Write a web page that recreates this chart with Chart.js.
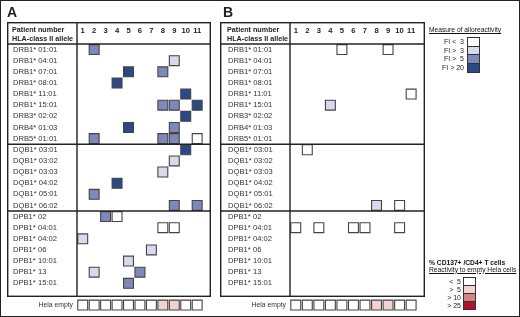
<!DOCTYPE html>
<html><head><meta charset="utf-8">
<script src="https://cdn.jsdelivr.net/npm/chart.js@4/dist/chart.umd.min.js"></script>
<style>
html,body{margin:0;padding:0;background:#fff;}
#fig{position:relative;width:520px;height:317px;box-sizing:border-box;border:1px solid #222;overflow:hidden;font-family:"Liberation Sans",Arial,sans-serif;color:#222;}
canvas{position:absolute;}
.layer{position:absolute;left:0;top:0;width:520px;height:317px;will-change:transform;-webkit-font-smoothing:antialiased;}
.t{position:absolute;white-space:nowrap;line-height:1;}
.sw{position:absolute;box-sizing:border-box;border:1px solid #333;}
</style></head>
<body><div id="fig">
<div class="layer">
<div class="t" style="left:6px;top:4px;font-size:14px;font-weight:bold;">A</div>
<div class="t" style="left:222px;top:4px;font-size:14px;font-weight:bold;">B</div>
</div>
<canvas id="cA" width="204" height="275" style="left:6px;top:21px;"></canvas>
<canvas id="cB" width="205" height="275" style="left:219px;top:21px;"></canvas>
<canvas id="hA" width="204" height="16" style="left:6px;top:296px;"></canvas>
<canvas id="hB" width="205" height="16" style="left:219px;top:296px;"></canvas>
<div class="layer" id="leg1"></div><div class="layer" id="leg2"></div>
</div>
<script>
const patients = ['1','2','3','4','5','6','7','8','9','10','11'];
const drAlleles = ['DRB1* 01:01','DRB1* 04:01','DRB1* 07:01','DRB1* 08:01','DRB1* 11:01','DRB1* 15:01','DRB3* 02:02','DRB4* 01:03','DRB5* 01:01'];
const dqAlleles = ['DQB1* 03:01','DQB1* 03:02','DQB1* 03:03','DQB1* 04:02','DQB1* 05:01','DQB1* 06:02'];
const dpAlleles = ['DPB1* 02','DPB1* 04:01','DPB1* 04:02','DPB1* 06','DPB1* 10:01','DPB1* 13','DPB1* 15:01'];
const fiLabels = ['FI <  3','FI >  3','FI >  5','FI > 20'];
const fiColors = ['#ffffff','#d8d9ec','#7f89b9','#2c4985'];
const helaLabels = ['<  5','>  5','> 10','> 25'];
const helaColors = ['#ffffff','#f1d2d0','#d38383','#b0122e'];
// [patient, allele, FI level]
const reactivityA = [
 ['2','DRB1* 01:01',2],['9','DRB1* 04:01',1],['5','DRB1* 07:01',3],['8','DRB1* 07:01',2],
 ['4','DRB1* 08:01',3],['10','DRB1* 11:01',3],['8','DRB1* 15:01',2],['9','DRB1* 15:01',2],
 ['11','DRB1* 15:01',3],['10','DRB3* 02:02',3],['5','DRB4* 01:03',3],['9','DRB4* 01:03',2],
 ['2','DRB5* 01:01',2],['8','DRB5* 01:01',2],['9','DRB5* 01:01',2],['11','DRB5* 01:01',0],
 ['10','DQB1* 03:01',3],['9','DQB1* 03:02',1],['8','DQB1* 03:03',1],['4','DQB1* 04:02',3],
 ['2','DQB1* 05:01',2],['9','DQB1* 06:02',2],['11','DQB1* 06:02',2],
 ['3','DPB1* 02',2],['4','DPB1* 02',0],['8','DPB1* 04:01',0],['9','DPB1* 04:01',0],
 ['1','DPB1* 04:02',1],['7','DPB1* 06',1],['5','DPB1* 10:01',1],['2','DPB1* 13',1],
 ['6','DPB1* 13',2],['5','DPB1* 15:01',2]
];
const reactivityB = [
 ['5','DRB1* 01:01',0],['9','DRB1* 01:01',0],['11','DRB1* 11:01',0],['4','DRB1* 15:01',1],
 ['2','DQB1* 03:01',0],['8','DQB1* 06:02',1],['10','DQB1* 06:02',0],
 ['1','DPB1* 04:01',0],['3','DPB1* 04:01',0],['6','DPB1* 04:01',0],['7','DPB1* 04:01',0],['10','DPB1* 04:01',0]
];
const helaA = [0,0,0,0,0,0,0,1,1,0,0];
const helaB = [0,0,0,0,0,0,0,1,1,0,0];

const groups = [drAlleles, dqAlleles, dpAlleles];
const alleles = groups.flat();
const FONT = '"Liberation Sans", Arial, sans-serif';

const tableLines = {
  id: 'tableLines',
  afterDraw(chart) {
    const {ctx, chartArea: a, scales: {y}} = chart;
    const W = chart.width, H = chart.height;
    ctx.save();
    ctx.strokeStyle = '#222'; ctx.lineWidth = 1.4;
    const line = (x1, y1, x2, y2) => { ctx.beginPath(); ctx.moveTo(x1, y1); ctx.lineTo(x2, y2); ctx.stroke(); };
    ctx.strokeRect(0.7, 0.7, W - 1.4, H - 1.4);
    line(0, a.top, W, a.top);
    line(a.left, 0, a.left, H);
    let idx = 0;
    groups.slice(0, -1).forEach(g => {
      idx += g.length;
      const yy = (y.getPixelForValue(idx - 1) + y.getPixelForValue(idx)) / 2;
      line(0, yy, W, yy);
    });
    ctx.fillStyle = '#222'; ctx.font = 'bold 7.2px ' + FONT; ctx.textBaseline = 'middle';
    const px = chart.options.layout.padding.left;
    ctx.fillText('Patient number', px - 1, 8);
    ctx.fillText('HLA-class II allele', px - 1, 17);
    ctx.restore();
  }
};

function panel(id, cells, padLeft) {
  new Chart(document.getElementById(id), {
    type: 'scatter',
    data: { datasets: [{
      data: cells.map(c => ({x: c[0], y: c[1]})),
      backgroundColor: cells.map(c => fiColors[c[2]]),
      borderColor: '#444', borderWidth: 1.1,
      pointStyle: 'rect', pointRadius: 7, pointHoverRadius: 7, clip: false
    }]},
    options: {
      responsive: false, animation: false, events: [],
      layout: { padding: { left: padLeft, right: 0, top: 0, bottom: 0 } },
      plugins: { legend: {display: false}, tooltip: {enabled: false} },
      scales: {
        x: { type: 'category', labels: patients, position: 'top', offset: true,
             grid: {display: false, drawTicks: false}, border: {display: false},
             ticks: { font: {family: FONT, size: 7.6, weight: 'bold'}, color: '#222', padding: 9, maxRotation: 0, autoSkip: false },
             afterFit(s) { s.height = 22; } },
        y: { type: 'category', labels: alleles, offset: true,
             grid: {display: false, drawTicks: false}, border: {display: false},
             ticks: { font: {family: FONT, size: 7.6}, color: '#333', crossAlign: 'far', autoSkip: false, padding: 0 },
             afterFit(s) { s.width = 70 - padLeft; } }
      }
    },
    plugins: [tableLines]
  });
}

function helaRow(id, levels) {
  new Chart(document.getElementById(id), {
    type: 'scatter',
    data: { datasets: [{
      data: levels.map((l, i) => ({x: patients[i], y: 'Hela empty'})),
      backgroundColor: levels.map(l => helaColors[l]),
      borderColor: '#444', borderWidth: 1.1,
      pointStyle: 'rect', pointRadius: 7, pointHoverRadius: 7, clip: false
    }]},
    options: {
      responsive: false, animation: false, events: [],
      layout: { padding: 0 },
      plugins: { legend: {display: false}, tooltip: {enabled: false} },
      scales: {
        x: { type: 'category', labels: patients, offset: true, display: false },
        y: { type: 'category', labels: ['Hela empty'], offset: true,
             grid: {display: false, drawTicks: false}, border: {display: false},
             ticks: { font: {family: FONT, size: 6.8}, color: '#333', crossAlign: 'near', padding: 4 },
             afterFit(s) { s.width = 70; } }
      }
    }
  });
}

panel('cA', reactivityA, 6);
panel('cB', reactivityB, 8);
helaRow('hA', helaA);
helaRow('hB', helaB);

function legend(elId, x, y, titleLines, labels, colors, swX, swY, swH, labRight) {
  const el = document.getElementById(elId);
  let html = '';
  titleLines.forEach((t, i) => {
    html += `<div class="t" style="left:${x}px;top:${y + i * 7}px;font-size:6.7px;color:#111;${t.style}">${t.text}</div>`;
  });
  labels.forEach((lab, i) => {
    html += `<div class="sw" style="left:${swX}px;top:${swY + i * swH}px;width:13px;height:${swH + 1}px;background:${colors[i]};"></div>`;
    html += `<div class="t" style="left:${labRight - 30}px;width:30px;text-align:right;top:${swY + i * swH + swH / 2 - 3.5}px;font-size:7px;color:#222;white-space:pre;">${lab}</div>`;
  });
  el.innerHTML = html;
}
legend('leg1', 428, 26, [{text: 'Measure of alloreactivity', style: 'text-decoration:underline;'}],
       fiLabels, fiColors, 466, 36, 8.7, 463);
legend('leg2', 428, 258.5, [{text: '% CD137+ /CD4+ T cells', style: 'font-weight:bold;'}, {text: 'Reactivity to empty Hela cells', style: 'text-decoration:underline;'}],
       helaLabels, helaColors, 462, 276, 8, 460);
</script>
</body></html>
